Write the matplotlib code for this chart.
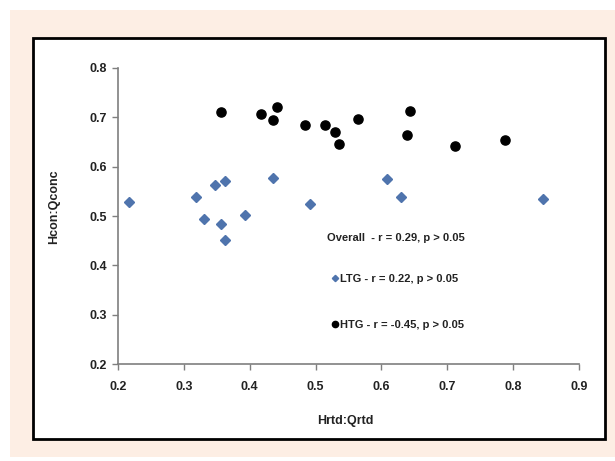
import matplotlib.pyplot as plt
from matplotlib.patches import Rectangle

# LTG group (blue diamonds)
ltg_x = [0.217, 0.319, 0.348, 0.362, 0.331, 0.356, 0.362, 0.393, 0.436, 0.491, 0.609, 0.629, 0.846]
ltg_y = [0.528, 0.538, 0.563, 0.571, 0.494, 0.483, 0.452, 0.503, 0.577, 0.525, 0.575, 0.538, 0.535]

# HTG group (black circles)
htg_x = [0.357, 0.417, 0.441, 0.435, 0.484, 0.515, 0.529, 0.536, 0.565, 0.643, 0.639, 0.711, 0.787]
htg_y = [0.710, 0.707, 0.720, 0.695, 0.685, 0.684, 0.670, 0.645, 0.696, 0.713, 0.665, 0.642, 0.654]

xticks = [0.2, 0.3, 0.4, 0.5, 0.6, 0.7, 0.8, 0.9]
yticks = [0.2, 0.3, 0.4, 0.5, 0.6, 0.7, 0.8]

plt.rcParams['font.family'] = ['Liberation Sans', 'DejaVu Sans']
plt.rcParams['font.weight'] = 'bold'

fig = plt.figure(figsize=(6.15, 4.61), dpi=100)
fig.patch.set_facecolor('white')

# peach page background and black frame
fig.patches.append(Rectangle((10/615, 4/461), 605/615, 447/461, transform=fig.transFigure,
                             facecolor='#fdeee4', edgecolor='none', zorder=-3))
fig.patches.append(Rectangle((33/615, 22/461), 572/615, 401/461, transform=fig.transFigure,
                             facecolor='white', edgecolor='black', linewidth=2, zorder=-2))

ax = fig.add_axes([118/615, 97/461, 461/615, 296/461])
ax.set_zorder(2)
ax.set_facecolor('none')

ax.plot(ltg_x, ltg_y, linestyle='none', marker='D', markersize=4.8, color='#4f74ad')
ax.plot(htg_x, htg_y, linestyle='none', marker='o', markersize=6.6, color='black')

ax.set_xlim(0.2, 0.9)
ax.set_ylim(0.2, 0.8)
ax.set_xticks(xticks)
ax.set_yticks(yticks)
ax.set_xticklabels([str(t) for t in xticks])
ax.set_yticklabels([str(t) for t in yticks])

for s in ['top', 'right']:
    ax.spines[s].set_visible(False)
for s in ['left', 'bottom']:
    ax.spines[s].set_color('#7f7f7f')
    ax.spines[s].set_linewidth(1.2)
ax.tick_params(axis='both', direction='out', length=4, width=1, color='#7f7f7f',
               labelsize=9, labelcolor='#222222')
ax.tick_params(axis='x', pad=8)
ax.tick_params(axis='y', pad=4)

# correlation notes
ax.text(0.518, 0.455, 'Overall  - r = 0.29, p > 0.05', fontsize=8, fontweight='bold',
        va='center', ha='left', color='#222222')
ax.plot([0.530], [0.374], marker='D', markersize=3.2, color='#4f74ad', linestyle='none')
ax.text(0.537, 0.372, 'LTG - r = 0.22, p > 0.05', fontsize=8, fontweight='bold',
        va='center', ha='left', color='#222222')
ax.plot([0.530], [0.281], marker='o', markersize=4.5, color='black', linestyle='none')
ax.text(0.537, 0.279, 'HTG - r = -0.45, p > 0.05', fontsize=8, fontweight='bold',
        va='center', ha='left', color='#222222')

fig.text(54/615, 1 - 207/461, 'Hcon:Qconc', rotation=90, fontsize=9, fontweight='bold',
         ha='center', va='center', color='#222222')
fig.text(345/615, 1 - 421/461, 'Hrtd:Qrtd', fontsize=9, fontweight='bold',
         ha='center', va='center', color='#222222')

fig.savefig('out.png', dpi=100, facecolor='white')
